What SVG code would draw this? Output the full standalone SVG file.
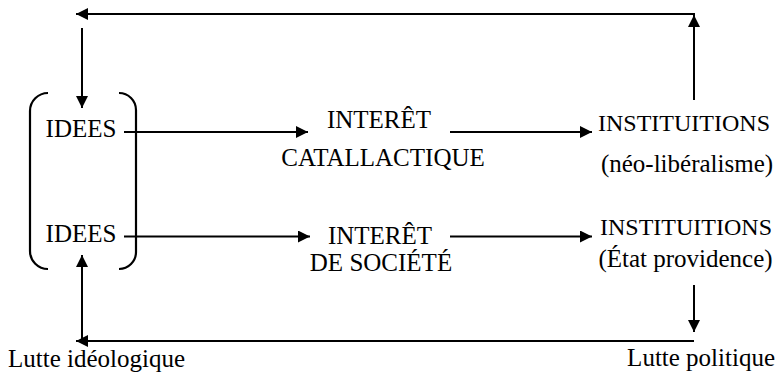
<svg xmlns="http://www.w3.org/2000/svg" width="780" height="376" viewBox="0 0 780 376">
  <style>
    .ln { fill: none; stroke: #000; stroke-width: 2; }
    .br { fill: none; stroke: #000; stroke-width: 2.2; }
  </style>
  <defs>
    <marker id="arr" viewBox="0 0 12 12" refX="12" refY="6" markerWidth="12" markerHeight="12" markerUnits="userSpaceOnUse" orient="auto">
      <path d="M0,0 L12,6 L0,12 z" fill="#000"/>
    </marker>
  </defs>
  <rect width="780" height="376" fill="#fff"/>

  <g id="idees-box">
    <path class="br" d="M48,93 A18,18 0 0 0 30,111 V251 A18,18 0 0 0 48,269"/>
    <path class="br" d="M119,93 A17,17 0 0 1 136,110 V252 A17,17 0 0 1 119,269"/>
  </g>
  <g id="idees-1"><text x="81" y="137" font-family="Liberation Serif" font-size="25" text-anchor="middle">IDEES</text></g>
  <g id="idees-2"><text x="81" y="242" font-family="Liberation Serif" font-size="25" text-anchor="middle">IDEES</text></g>
  <g id="interet-catallactique">
    <text x="379" y="128" font-family="Liberation Serif" font-size="25" text-anchor="middle">INTERÊT</text>
    <text x="383" y="166" font-family="Liberation Serif" font-size="25" text-anchor="middle">CATALLACTIQUE</text>
  </g>
  <g id="interet-societe">
    <text x="380" y="244" font-family="Liberation Serif" font-size="25" text-anchor="middle">INTERÊT</text>
    <text x="381" y="271" font-family="Liberation Serif" font-size="25" text-anchor="middle">DE SOCIÉTÉ</text>
  </g>
  <g id="institutions-neolib">
    <text x="684" y="131" font-family="Liberation Serif" font-size="24" text-anchor="middle">INSTITUITIONS</text>
    <text x="687" y="172" font-family="Liberation Serif" font-size="25" text-anchor="middle">(néo-libéralisme)</text>
  </g>
  <g id="institutions-providence">
    <text x="686" y="235" font-family="Liberation Serif" font-size="24" text-anchor="middle">INSTITUITIONS</text>
    <text x="685.5" y="267" font-family="Liberation Serif" font-size="25" text-anchor="middle">(État providence)</text>
  </g>
  <g id="lutte-ideologique"><text x="8" y="367" font-family="Liberation Serif" font-size="25" text-anchor="start">Lutte idéologique</text></g>
  <g id="lutte-politique"><text x="775" y="366" font-family="Liberation Serif" font-size="25" text-anchor="end">Lutte politique</text></g>

  <g id="connectors">
    <path class="ln" d="M694,100 V15" marker-end="url(#arr)"/>
    <path class="ln" d="M695,14 H76" marker-end="url(#arr)"/>
    <path class="ln" d="M82,28 V108" marker-end="url(#arr)"/>
    <path class="ln" d="M124,132 H308" marker-end="url(#arr)"/>
    <path class="ln" d="M450,132 H592" marker-end="url(#arr)"/>
    <path class="ln" d="M124,236.5 H310" marker-end="url(#arr)"/>
    <path class="ln" d="M450,236.5 H592" marker-end="url(#arr)"/>
    <path class="ln" d="M694,285 V332" marker-end="url(#arr)"/>
    <path class="ln" d="M694,341 H76" marker-end="url(#arr)"/>
    <path class="ln" d="M82,341 V255" marker-end="url(#arr)"/>
  </g>
</svg>
